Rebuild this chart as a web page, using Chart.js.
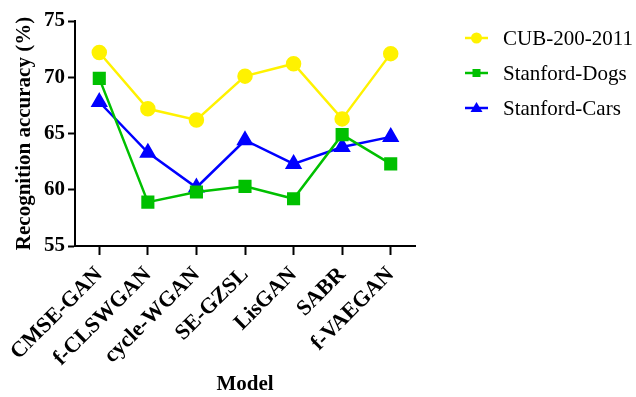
<!DOCTYPE html>
<html>
<head>
<meta charset="utf-8">
<script src="https://cdn.jsdelivr.net/npm/chart.js@4.4.0/dist/chart.umd.min.js"></script>
<style>
html,body{margin:0;padding:0;background:#fff;}
#wrap{width:636px;height:397px;position:relative;}
</style>
</head>
<body>
<div id="wrap"><canvas id="c" width="636" height="397"></canvas></div>
<script>
const categories = ['CMSE-GAN','f-CLSWGAN','cycle-WGAN','SE-GZSL','LisGAN','SABR','f-VAEGAN'];
const cubValues = [72.2, 67.2, 66.2, 70.1, 71.2, 66.3, 72.1];
const dogsValues = [69.9, 58.9, 59.8, 60.3, 59.2, 64.9, 62.3];
const carsValues = [67.8, 63.3, 60.2, 64.4, 62.3, 63.8, 64.7];
const yTicks = [55, 60, 65, 70, 75];
const seriesNames = ['CUB-200-2011','Stanford-Dogs','Stanford-Cars'];

const FONT = "'Liberation Serif','Times New Roman',serif";
const YELLOW = '#FFF200';
const GREEN = '#00C000';
const BLUE = '#0000FF';

const legendPlugin = {
  id: 'customLegend',
  afterDraw(chart) {
    const ctx = chart.ctx;
    const ys = [38, 73, 108];
    ctx.save();
    chart.data.datasets.forEach((ds, i) => {
      const y = ys[i];
      ctx.strokeStyle = ds.borderColor;
      ctx.lineWidth = 2.5;
      ctx.beginPath();
      ctx.moveTo(465, y);
      ctx.lineTo(488, y);
      ctx.stroke();
      ctx.fillStyle = ds.backgroundColor;
      ctx.beginPath();
      if (ds.pointStyle === 'circle') {
        ctx.arc(476.5, y, 5.5, 0, Math.PI * 2);
        ctx.fill();
      } else if (ds.pointStyle === 'rect') {
        ctx.fillRect(472.5, y - 4, 8, 8);
      } else {
        ctx.moveTo(476.5, y - 6);
        ctx.lineTo(482.5, y + 4);
        ctx.lineTo(470.5, y + 4);
        ctx.closePath();
        ctx.fill();
      }
      ctx.fillStyle = '#000';
      ctx.font = '21px ' + FONT;
      ctx.textBaseline = 'middle';
      ctx.textAlign = 'left';
      ctx.fillText(ds.label, 503, y + 1);
    });
    ctx.restore();
  }
};

new Chart(document.getElementById('c'), {
  type: 'line',
  data: {
    labels: categories,
    datasets: [
      {label: seriesNames[0], data: cubValues, borderColor: YELLOW, backgroundColor: YELLOW,
       pointStyle: 'circle', pointRadius: 6.5, pointHoverRadius: 6.5, borderWidth: 2.5, tension: 0},
      {label: seriesNames[1], data: dogsValues, borderColor: GREEN, backgroundColor: GREEN,
       pointStyle: 'rect', pointRadius: 7.5, pointHoverRadius: 7.5, borderWidth: 2.5, tension: 0},
      {label: seriesNames[2], data: carsValues, borderColor: BLUE, backgroundColor: BLUE,
       pointStyle: 'triangle', pointRadius: 7.5, pointHoverRadius: 7.5, borderWidth: 2.5, tension: 0}
    ]
  },
  options: {
    responsive: false,
    animation: false,
    devicePixelRatio: 1,
    layout: {padding: {left: 0, right: 221, top: 21, bottom: 0}},
    plugins: {legend: {display: false}, tooltip: {enabled: false}},
    scales: {
      x: {
        type: 'category',
        offset: true,
        grid: {display: true, offset: false, drawOnChartArea: false, drawTicks: true, tickLength: 9, tickWidth: 2, tickColor: '#000'},
        border: {display: true, width: 2, color: '#000'},
        ticks: {color: '#000', font: {family: FONT, size: 22, weight: 'bold'}, minRotation: 45, maxRotation: 45, padding: 7, autoSkip: false},
        title: {display: true, text: 'Model', color: '#000', font: {family: FONT, size: 21, weight: 'bold'}, padding: {top: 0, bottom: 0}},
        afterFit(s) { s.height = 151; }
      },
      y: {
        min: 55, max: 75,
        afterBuildTicks(s) { s.ticks = yTicks.map(v => ({value: v})); },
        grid: {display: true, drawOnChartArea: false, drawTicks: true, tickLength: 7, tickWidth: 2, tickColor: '#000'},
        border: {display: true, width: 2, color: '#000'},
        ticks: {color: '#000', font: {family: FONT, size: 21, weight: 'bold'}, padding: 3},
        title: {display: true, text: 'Recognition accuracy (%)', color: '#000', font: {family: FONT, size: 21, weight: 'bold'}, padding: {top: 12, bottom: 0}},
        afterFit(s) { s.width = 75; }
      }
    }
  },
  plugins: [legendPlugin]
});
</script>
</body>
</html>
